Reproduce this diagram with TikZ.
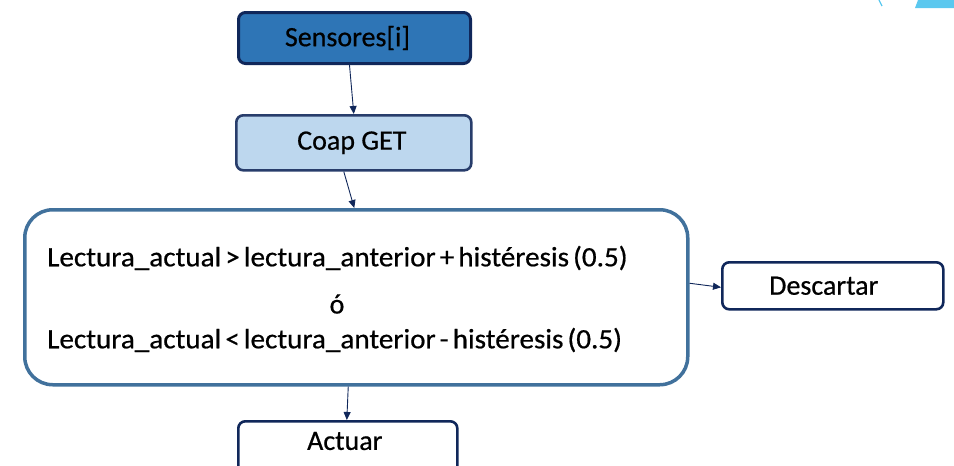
\documentclass[tikz,border=0pt]{standalone}
\usepackage{fontspec}
\setmainfont{Carlito}
\newfontfamily\lblfont{Carlito}[FakeBold=0.6]
\usetikzlibrary{arrows.meta}
\definecolor{navy}{HTML}{10275A}
\definecolor{midblue}{HTML}{2E75B6}
\definecolor{paleblue}{HTML}{BDD7EE}
\definecolor{steel}{HTML}{41719C}
\definecolor{skyblue}{HTML}{5BC8EF}
\tikzset{
  box/.style={draw=navy, line width=3pt, rounded corners=7pt, inner sep=0pt, anchor=north west},
  flow/.style={draw=navy, line width=0.9pt, -{Triangle[length=8pt,width=7pt]}},
  lbl/.style={font=\lblfont\fontsize{28}{32}\selectfont, text=black},
  cond text/.style={lbl, anchor=west, inner sep=0pt,
    execute at begin node={\spaceskip=0.14em plus 0.05em\relax}},
}
\begin{document}
\begin{tikzpicture}[x=1pt,y=-1pt]
\useasboundingbox (0,0) rectangle (954,466);
\begin{scope}
\clip (0,0) rectangle (954,466);
% decoration in the upper right corner
\fill[skyblue] (918,0) -- (954,0) -- (954,8) -- (915,8) -- cycle;
\draw[skyblue, line width=1.2pt] (879,0) -- (882,6);

% process boxes
\node[box, fill=midblue, minimum width=232pt, minimum height=51pt] (sens) at (237,11) {};
\node[lbl] at ([xshift=-7pt]sens.center) {Sensores[i]};
\node[box, draw=navy!90, line width=2.6pt, fill=paleblue, minimum width=235pt, minimum height=55pt] (coap) at (235,114) {};
\node[lbl] at ([xshift=-2pt]coap.center) {Coap GET};
\node[box, draw=steel, line width=3.5pt, rounded corners=28pt, fill=white, minimum width=663pt, minimum height=175pt] (cond) at (23,208) {};
\node[cond text, xscale=1.04] (l1) at (47,258) {Lectura\_actual > lectura\_anterior + histéresis (0.5)};
\node[lbl] (l2) at (337,304) {ó};
\node[cond text, xscale=1.04] (l3) at (47,340) {Lectura\_actual < lectura\_anterior - histéresis (0.5)};
\node[box, line width=2.6pt, fill=white, minimum width=221pt, minimum height=47pt] (desc) at (721,261) {};
\node[lbl] at ([xshift=-9pt]desc.center) {Descartar};
\node[box, line width=2.6pt, fill=white, minimum width=219pt, minimum height=60pt] (act) at (237,420) {};
\node[lbl] at ([xshift=-3pt,yshift=-21pt]act.north) {Actuar};

% connectors
\draw[flow] ([xshift=-5pt]sens.south) -- ([xshift=0pt]coap.north);
\draw[flow] ([xshift=-10pt]coap.south) -- ([xshift=-2pt]cond.north);
\draw[flow] ([yshift=14pt]cond.east) -- ([yshift=-1.5pt]desc.west);
\draw[flow] ([xshift=-8pt]cond.south) -- ([xshift=-1pt]act.north);
\end{scope}
\end{tikzpicture}
\end{document}
